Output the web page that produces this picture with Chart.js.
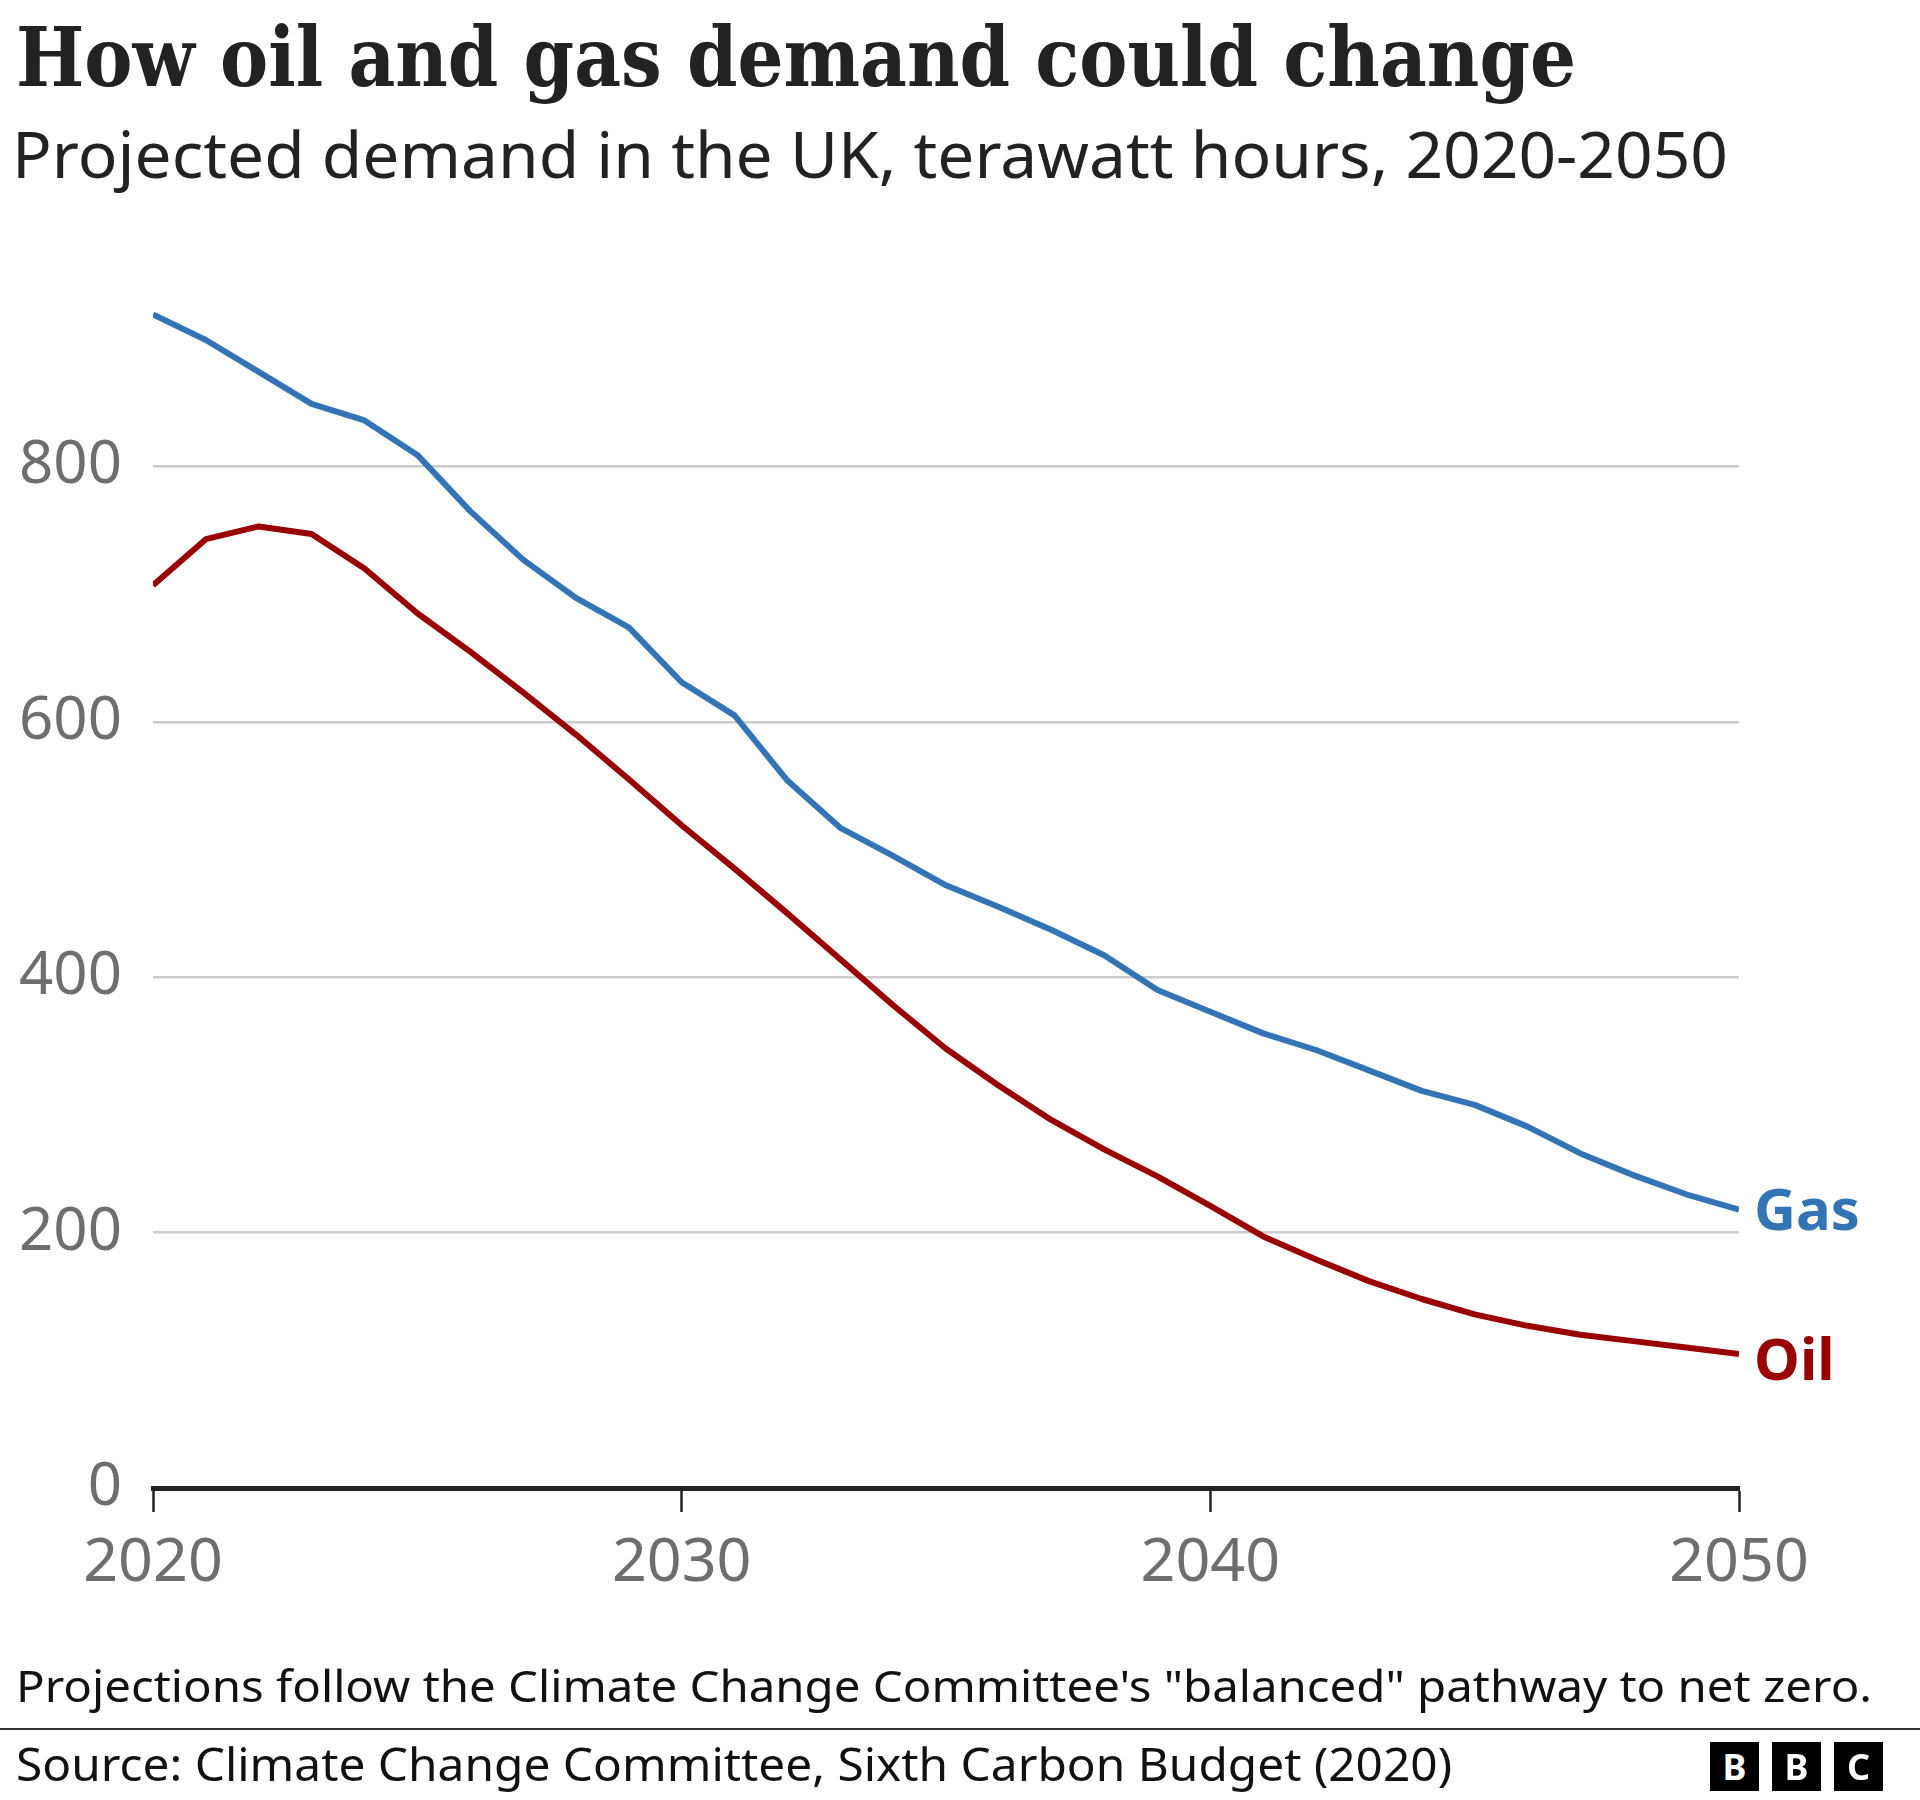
<!DOCTYPE html>
<html>
<head>
<meta charset="utf-8">
<script src="https://cdn.jsdelivr.net/npm/chart.js@4.4.0/dist/chart.umd.min.js"></script>
<style>
  html, body { margin: 0; padding: 0; background: #fff; }
  #page { position: relative; width: 1920px; height: 1800px; overflow: hidden; font-family: 'Noto Sans', sans-serif; color: #222; }
  #chart-wrap { position: absolute; left: 0; top: 0; width: 1920px; height: 1800px; }
  .txt { position: absolute; white-space: nowrap; line-height: 1; transform-origin: 0 0; display: inline-block; }
  #title { left: 16px; top: 16px; font-family: 'DejaVu Serif', serif; font-weight: bold; font-size: 82px; color: #222; }
  #subtitle { left: 12px; top: 122px; font-size: 63px; color: #222; }
  #note { left: 16px; top: 1663px; font-size: 44px; color: #111; }
  #rule { position: absolute; left: 0; top: 1728px; width: 1920px; height: 2px; background: #333; }
  #source { left: 16px; top: 1741px; font-size: 45px; color: #111; }
  .bbc { position: absolute; top: 1742px; width: 49px; height: 49px; background: #000; color: #fff;
         font-weight: bold; font-size: 36px; line-height: 49px; text-align: center; }
</style>
</head>
<body>
<div id="page">
  <div id="chart-wrap"><canvas id="chart"></canvas></div>
  <span class="txt" id="title">How oil and gas demand could change</span>
  <span class="txt" id="subtitle">Projected demand in the UK, terawatt hours, 2020-2050</span>
  <span class="txt" id="note">Projections follow the Climate Change Committee's "balanced" pathway to net zero.</span>
  <div id="rule"></div>
  <span class="txt" id="source">Source: Climate Change Committee, Sixth Carbon Budget (2020)</span>
  <div class="bbc" style="left:1710px">B</div>
  <div class="bbc" style="left:1772px">B</div>
  <div class="bbc" style="left:1834px">C</div>
</div>
<script>
// ── Data (TWh) ──
const years = [2020, 2021, 2022, 2023, 2024, 2025, 2026, 2027, 2028, 2029,
               2030, 2031, 2032, 2033, 2034, 2035, 2036, 2037, 2038, 2039,
               2040, 2041, 2042, 2043, 2044, 2045, 2046, 2047, 2048, 2049, 2050];
const gasDemand = [919, 899, 874, 849, 836, 809, 765, 727, 697, 674,
                   631, 605, 554, 517, 495, 472, 455, 437, 417, 390,
                   373, 356, 343, 327, 311, 300, 283, 262, 245, 230, 218];
const oilDemand = [707, 743, 753, 747, 720, 685, 655, 623, 590, 555,
                   519, 485, 450, 414, 378, 344, 315, 288, 265, 244,
                   221, 197, 179, 162, 148, 136, 127, 120, 115, 110, 105];
const seriesNames = ['Gas', 'Oil'];
const yTicks = [0, 200, 400, 600, 800];
const xTicks = [2020, 2030, 2040, 2050];

const GAS_BLUE = '#3374b6';
const OIL_RED = '#990000';
const TICK_GREY = '#6e6e6e';

// ── Fit html text to the reference widths ──
function fitWidth(id, target) {
  const el = document.getElementById(id);
  const w = el.getBoundingClientRect().width;
  if (w > 0) el.style.transform = `scaleX(${target / w})`;
}
fitWidth('title', 1560);
fitWidth('subtitle', 1716);
fitWidth('note', 1856);
fitWidth('source', 1436);

// label at the end of each line, in the line's colour
const endLabels = {
  id: 'endLabels',
  afterDatasetsDraw(chart) {
    const { ctx, scales: { x, y } } = chart;
    ctx.save();
    ctx.font = 'bold 58px "Noto Sans"';
    ctx.textBaseline = 'alphabetic';
    ctx.textAlign = 'left';
    chart.data.datasets.forEach((ds, i) => {
      const last = ds.data[ds.data.length - 1];
      const px = x.getPixelForValue(last.x) + 15;
      const py = y.getPixelForValue(last.y) + 20 + (i === 1 ? 6 : 0);
      ctx.fillStyle = ds.borderColor;
      ctx.fillText(ds.label, px, py);
    });
    ctx.restore();
  }
};

const toPoints = vals => years.map((yr, i) => ({ x: yr, y: vals[i] }));

new Chart(document.getElementById('chart'), {
  type: 'line',
  data: {
    datasets: [
      { label: seriesNames[0], data: toPoints(gasDemand), borderColor: GAS_BLUE },
      { label: seriesNames[1], data: toPoints(oilDemand), borderColor: OIL_RED },
    ].map(d => ({ ...d, borderWidth: 6, pointRadius: 0, tension: 0, borderJoinStyle: 'round', fill: false }))
  },
  options: {
    responsive: true,
    maintainAspectRatio: false,
    animation: false,
    layout: { padding: { top: 211, right: 181, bottom: 192, left: 0 } },
    plugins: { legend: { display: false }, tooltip: { enabled: false } },
    scales: {
      x: {
        type: 'linear',
        min: 2020, max: 2050,
        afterBuildTicks: s => { s.ticks = xTicks.map(v => ({ value: v })); },
        afterFit: s => { s.height = 120; },
        grid: { drawOnChartArea: false, drawTicks: true, tickLength: 24, tickWidth: 2.5, tickColor: '#222' },
        border: { display: true, color: '#222', width: 5 },
        ticks: {
          color: TICK_GREY, font: { family: 'Noto Sans', size: 61 }, padding: 15,
          maxRotation: 0, autoSkip: false, callback: v => String(v)
        }
      },
      y: {
        min: 0, max: 1000,
        afterBuildTicks: s => { s.ticks = yTicks.map(v => ({ value: v })); },
        afterFit: s => { s.width = 153; },
        grid: { color: '#cccccc', lineWidth: 2.5, drawTicks: false },
        border: { display: false },
        ticks: { color: TICK_GREY, font: { family: 'Noto Sans', size: 60 }, padding: 31 }
      }
    }
  },
  plugins: [endLabels]
});
</script>
</body>
</html>
